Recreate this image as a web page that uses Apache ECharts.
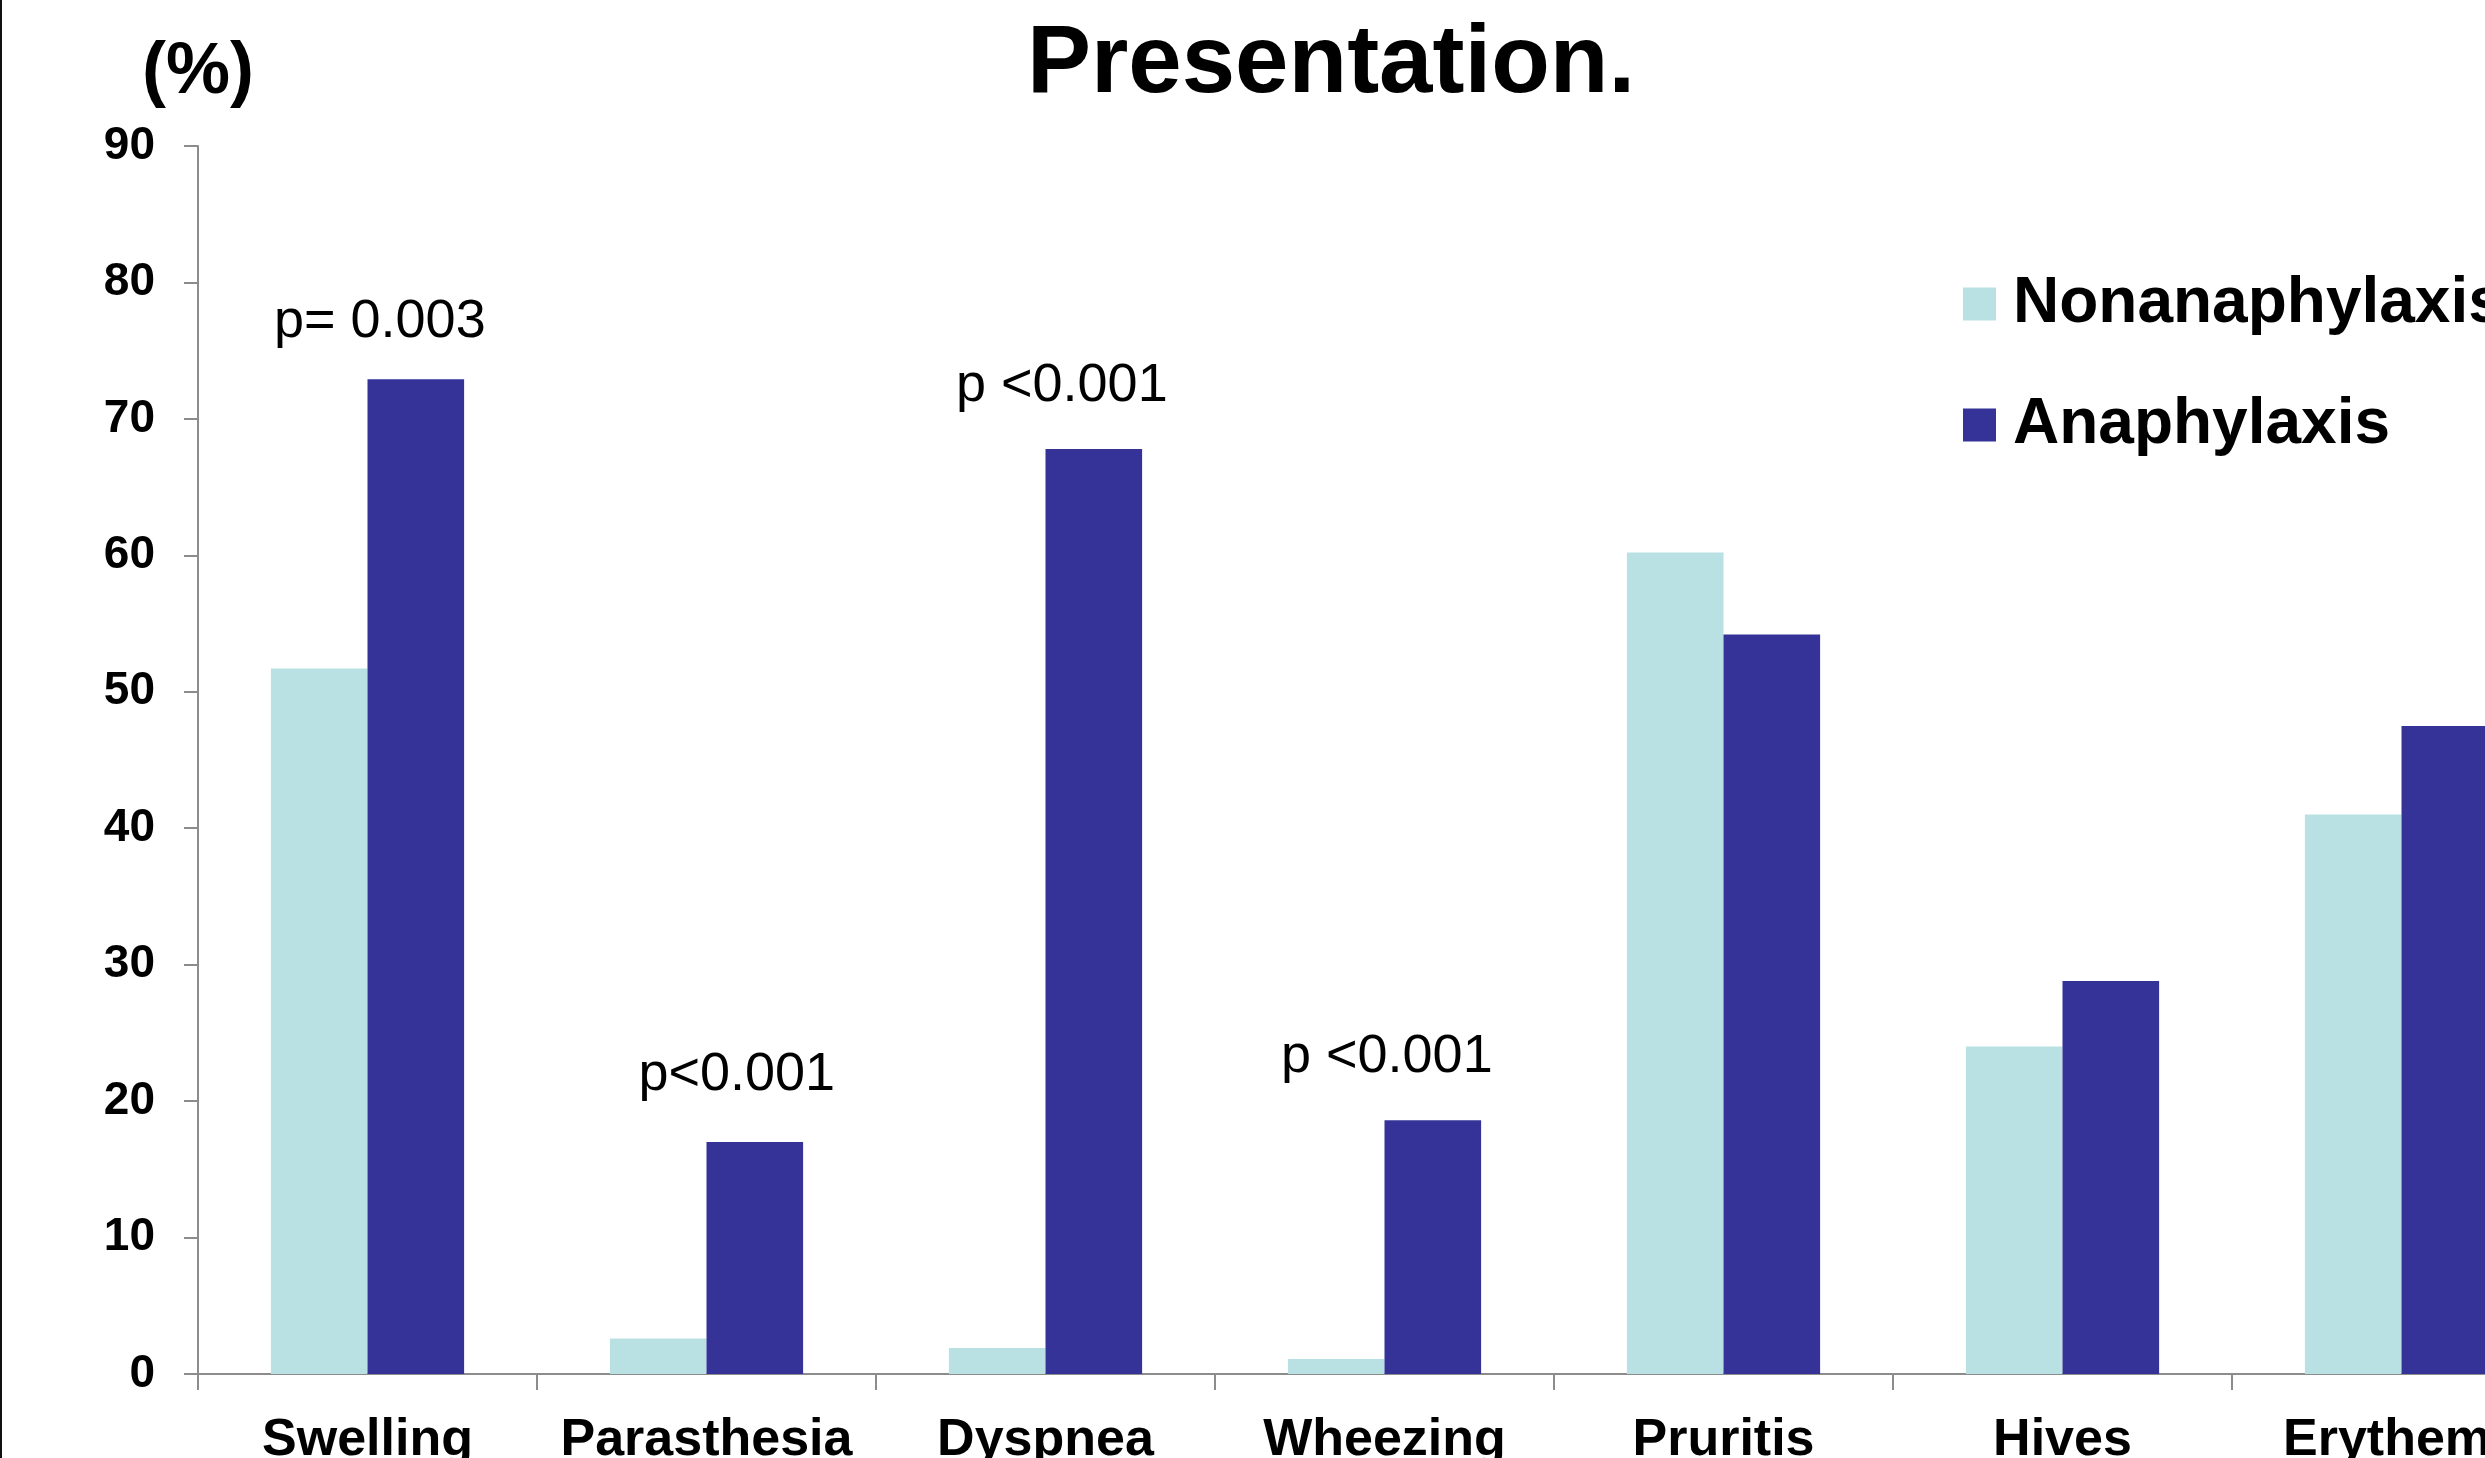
<!DOCTYPE html>
<html>
<head>
<meta charset="utf-8">
<title>Presentation.</title>
<script src="https://cdn.jsdelivr.net/npm/echarts@6/dist/echarts.min.js"></script>
<style>
    html, body { margin: 0; padding: 0; background: #fff; }
    #chart { width: 2485px; height: 1458px; }
</style>
</head>
<body>
<div id="chart"></div>
<script>
// 数据
const categories = ['Swelling', 'Parasthesia', 'Dyspnea', 'Wheezing', 'Pruritis', 'Hives', 'Erythema'];
const seriesNames = ['Nonanaphylaxis', 'Anaphylaxis'];
const nonanaphylaxis = [51.7, 2.6, 1.9, 1.1, 60.2, 24.0, 41.0];
const anaphylaxis = [72.9, 17.0, 67.8, 18.6, 54.2, 28.8, 47.5];
const pValues = ['p= 0.003', 'p<0.001', 'p <0.001', 'p <0.001', '', '', ''];
const yTicks = [0, 10, 20, 30, 40, 50, 60, 70, 80, 90];

const FONT = "'Liberation Sans', Arial, Helvetica, sans-serif";
const LIGHT = '#b9e0e3';
const DARK = '#353398';
const AXIS_GRAY = '#8c8c8c';

// p 值标签的微调（相对于深色柱顶部）
const pOffsets = [[-36, 6], [-18, -4], [-32, 0], [-46, 0], [0, 0], [0, 0], [0, 0]];

const chart = echarts.init(document.getElementById('chart'));

const darkData = anaphylaxis.map((v, i) => ({
    value: v,
    label: {
        show: pValues[i] !== '',
        formatter: pValues[i],
        offset: pOffsets[i]
    }
}));

const option = {
    backgroundColor: '#fff',
    animation: false,
    graphic: [
        {
            type: 'rect',
            shape: { x: 0, y: 0, width: 2, height: 1458 },
            style: { fill: '#111' }
        },
        {
            type: 'text',
            x: 1331,
            y: 66,
            style: {
                text: 'Presentation.',
                font: 'bold 96px ' + FONT,
                fill: '#000',
                align: 'center',
                verticalAlign: 'middle'
            }
        }
    ],
    legend: {
        data: seriesNames,
        orient: 'vertical',
        left: 1963,
        top: 272,
        padding: 0,
        itemWidth: 33,
        itemHeight: 33,
        itemGap: 57,
        icon: 'rect',
        textStyle: {
            fontFamily: FONT,
            fontWeight: 'bold',
            fontSize: 64,
            color: '#000',
            padding: [0, 0, 0, 12]
        }
    },
    // 最后一个类别被裁掉一部分，所以网格宽度超出画布
    grid: {
        left: 198,
        top: 146,
        bottom: 84,
        width: 2373,
        containLabel: false,
        outerBoundsMode: 'none'
    },
    xAxis: {
        type: 'category',
        data: categories,
        axisLine: { lineStyle: { color: AXIS_GRAY, width: 2 } },
        axisTick: { show: true, length: 16, lineStyle: { color: AXIS_GRAY, width: 2 } },
        axisLabel: {
            fontFamily: FONT,
            fontWeight: 'bold',
            fontSize: 52,
            color: '#000',
            margin: 41,
            interval: 0
        }
    },
    yAxis: {
        type: 'value',
        min: yTicks[0],
        max: yTicks[yTicks.length - 1],
        interval: 10,
        name: '(%)',
        nameLocation: 'end',
        nameGap: 37,
        nameTextStyle: {
            fontFamily: FONT,
            fontWeight: 'bold',
            fontSize: 72,
            color: '#000',
            align: 'center'
        },
        axisLine: { show: true, lineStyle: { color: AXIS_GRAY, width: 2 } },
        axisTick: { show: true, length: 14, lineStyle: { color: AXIS_GRAY, width: 2 } },
        splitLine: { show: false },
        axisLabel: {
            fontFamily: FONT,
            fontWeight: 'bold',
            fontSize: 46,
            color: '#000',
            margin: 43
        }
    },
    series: [
        {
            name: seriesNames[0],
            type: 'bar',
            data: nonanaphylaxis,
            barGap: '0%',
            barCategoryGap: '43%',
            itemStyle: { color: LIGHT }
        },
        {
            name: seriesNames[1],
            type: 'bar',
            data: darkData,
            barGap: '0%',
            barCategoryGap: '43%',
            itemStyle: { color: DARK },
            label: {
                position: 'top',
                distance: 36,
                fontFamily: FONT,
                fontSize: 54,
                color: '#000'
            }
        }
    ]
};

chart.setOption(option);

window.addEventListener('resize', function() {
    chart.resize();
});
</script>
</body>
</html>
